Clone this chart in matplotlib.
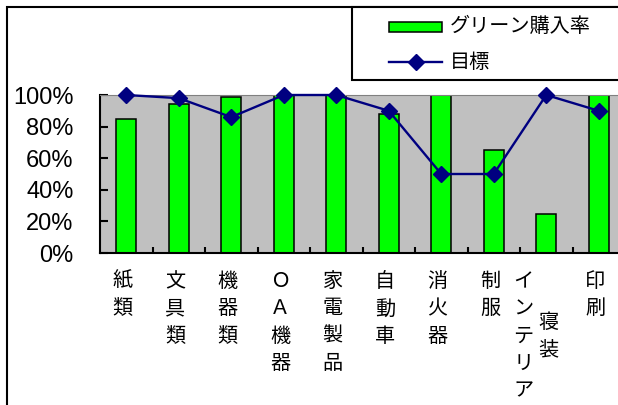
import matplotlib
matplotlib.use('Agg')
import matplotlib.pyplot as plt
import matplotlib.transforms as mtrans
from matplotlib.patches import Rectangle
from matplotlib.lines import Line2D

plt.rcParams['font.family'] = ['Noto Sans CJK JP', 'DejaVu Sans']

# data
categories = ['紙類', '文具類', '機器類', 'ＯＡ機器', '家電製品', '自動車',
              '消火器', '制服', 'インテリア\n寝装', '印刷']
green_rate = [85, 94, 99, 100, 100, 88, 100, 65, 25, 100]
target = [100, 98, 86, 100, 100, 90, 50, 50, 100, 90]
yticks = [0, 20, 40, 60, 80, 100]
legend_labels = ['グリーン購入率', '目標']

GREEN = '#00FF00'
NAVY = '#000080'

W, H = 618, 405
fig = plt.figure(figsize=(W / 100, H / 100), dpi=100)

# outer chart frame (cropped on right/bottom)
fig.add_artist(Rectangle((7 / W, -0.2), 1.5, 1.2 - 7 / H, transform=fig.transFigure,
                         fill=False, ec='black', lw=1.5))

ax = fig.add_axes([100 / W, (H - 253) / H, 525 / W, 158 / H])
ax.set_facecolor('#C0C0C0')

x = list(range(len(categories)))
ax.bar(x, green_rate, width=0.38, color=GREEN, edgecolor='black', linewidth=1.1, zorder=2)
ax.plot(x, target, color=NAVY, lw=1.7, marker='D', ms=8, clip_on=False, zorder=3)

ax.set_xlim(-0.5, len(categories) - 0.5)
ax.set_ylim(0, 100)
ax.set_yticks(yticks)
ax.set_yticklabels([f'{v}%' for v in yticks], fontsize=17, family='Liberation Sans')
ax.set_xticks([i + 0.5 for i in x])
ax.set_xticklabels([])
ax.tick_params(axis='y', direction='in', length=6, width=1.5, pad=19)
ax.tick_params(axis='x', direction='in', length=4, width=1.5)
for s in ['left', 'bottom']:
    ax.spines[s].set_linewidth(1.5)
ax.spines['top'].set_color('#808080')
ax.spines['right'].set_visible(False)

# stacked vertical category labels
trans = mtrans.blended_transform_factory(ax.transData, ax.transAxes)
ylab = -18 / 158
for i, lab in enumerate(categories):
    cols = lab.split('\n')
    if len(cols) == 1:
        ax.text(i - 0.07, ylab, '\n'.join(cols[0]), transform=trans, ha='center',
                va='top', fontsize=14.5, linespacing=1.4)
    else:
        t = ax.text(i - 0.43, ylab, '\n'.join(cols[0]), transform=trans, ha='center',
                    va='top', fontsize=14.5, linespacing=1.4)
        ax.annotate('\n'.join(cols[1]), xy=(0.5, 0.5), xycoords=t, xytext=(18, 0),
                    textcoords='offset points', ha='center', va='center',
                    fontsize=14.5, linespacing=1.4)

# legend box (cropped on the right)
fig.add_artist(Rectangle((352 / W, 1 - 80 / H), 1.0, 73 / H, transform=fig.transFigure,
                         fc='white', ec='black', lw=1.5))
fig.add_artist(Rectangle((389 / W, 1 - 32 / H), 53 / W, 10 / H, transform=fig.transFigure,
                         fc=GREEN, ec='black', lw=1.1))
fig.text(450 / W, 1 - 27 / H, legend_labels[0], fontsize=14.5, va='center')
fig.add_artist(Line2D([389 / W, 442 / W], [1 - 62 / H] * 2, transform=fig.transFigure,
                      color=NAVY, lw=1.7))
fig.add_artist(Line2D([415.5 / W], [1 - 62 / H], transform=fig.transFigure,
                      color=NAVY, marker='D', ms=8))
fig.text(450 / W, 1 - 63 / H, legend_labels[1], fontsize=14.5, va='center')

fig.savefig('out.png', dpi=100)
